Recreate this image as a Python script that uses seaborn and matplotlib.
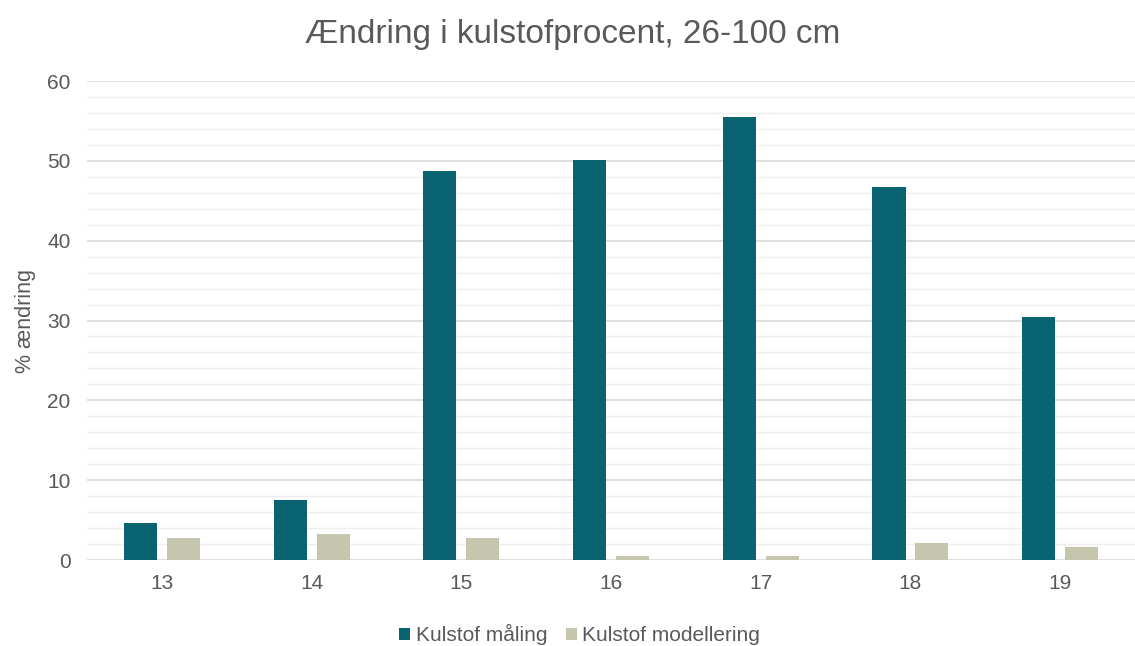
import matplotlib
matplotlib.use("Agg")
import matplotlib.pyplot as plt
import seaborn as sns
import pandas as pd
from matplotlib.ticker import MultipleLocator

categories = ["13", "14", "15", "16", "17", "18", "19"]
maaling = [4.6, 7.5, 48.7, 50.1, 55.5, 46.7, 30.5]
modellering = [2.8, 3.3, 2.8, 0.5, 0.5, 2.1, 1.6]
series_names = ["Kulstof måling", "Kulstof modellering"]
colors = ["#0A6370", "#C6C6AF"]

df = pd.DataFrame({
    "kategori": categories * 2,
    "værdi": maaling + modellering,
    "serie": [series_names[0]] * len(categories) + [series_names[1]] * len(categories),
})

sns.set_theme(style="white")
plt.rcParams["font.family"] = ["Liberation Sans", "DejaVu Sans"]

fig = plt.figure(figsize=(11.35, 6.46), dpi=100)
ax = fig.add_axes([0.0767, 0.1331, 0.9233, 0.7415])

sns.barplot(data=df, x="kategori", y="værdi", hue="serie", palette=colors,
            width=0.573, gap=0.23, ax=ax, legend=True, saturation=1,
            linewidth=0)

ax.set_ylim(0, 60)
ax.yaxis.set_major_locator(MultipleLocator(10))
ax.yaxis.set_minor_locator(MultipleLocator(2))
ax.grid(which="major", axis="y", color="#D9D9D9", linewidth=1.2)
ax.grid(which="minor", axis="y", color="#EEEEEE", linewidth=1.0)
ax.set_axisbelow(True)
for s in ax.spines.values():
    s.set_visible(False)

ax.tick_params(axis="both", which="both", length=0, labelsize=15, labelcolor="#595959")
ax.tick_params(axis="x", pad=10)
ax.tick_params(axis="y", pad=12)
ax.set_xlabel("")
ax.set_ylabel("% ændring", fontsize=15.5, color="#595959", labelpad=8)
fig.text(0.505, 0.946, "Ændring i kulstofprocent, 26-100 cm", fontsize=24,
         color="#595959", ha="center", va="center")

handles, labels = ax.get_legend_handles_labels()
ax.legend(handles, labels, loc="upper center", bbox_to_anchor=(0.47, -0.095),
          ncol=2, frameon=False, fontsize=15, handlelength=0.55, handleheight=0.55,
          handletextpad=0.25, columnspacing=0.9, labelcolor="#595959")

fig.savefig("out.png", dpi=100)
